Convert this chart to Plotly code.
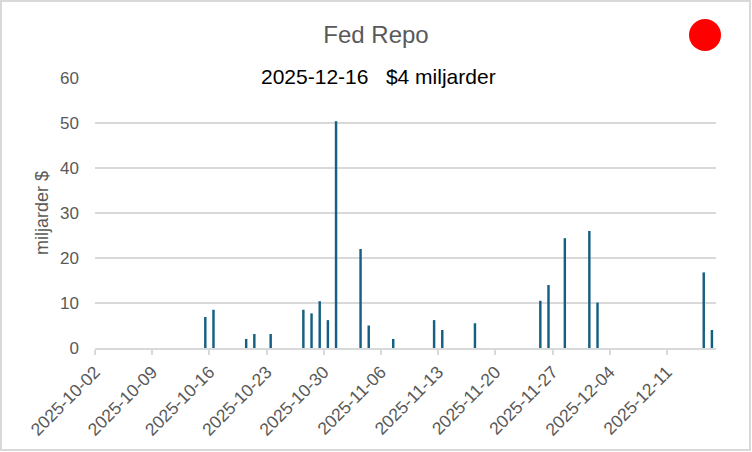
import plotly.graph_objects as go

# Fed repo operations, billions of dollars per day
dates = [
    "2025-10-15", "2025-10-16", "2025-10-20", "2025-10-21", "2025-10-23",
    "2025-10-27", "2025-10-28", "2025-10-29", "2025-10-30", "2025-10-31",
    "2025-11-03", "2025-11-04", "2025-11-07", "2025-11-12", "2025-11-13",
    "2025-11-17", "2025-11-25", "2025-11-26", "2025-11-28", "2025-12-01",
    "2025-12-02", "2025-12-15", "2025-12-16",
]
values = [
    6.9, 8.5, 2.0, 3.1, 3.1,
    8.5, 7.7, 10.4, 6.2, 50.4,
    22.0, 5.0, 2.0, 6.2, 4.0,
    5.5, 10.5, 14.0, 24.4, 26.0,
    10.1, 16.8, 4.0,
]
last_label = "2025-12-16\u00a0\u00a0\u00a0$4 miljarder"

W, H = 752, 452
L, R, T, B = 95, 36, 78, 104
pw, ph = W - L - R, H - T - B


def px_x(x):
    return (x - L) / pw


def px_y(y):
    return (H - B - y) / ph


grey = "#595959"
grid = "#d9d9d9"
day = 86400000

fig = go.Figure(go.Bar(
    x=dates, y=values,
    xperiod=day, xperiodalignment="middle",
    width=0.3 * day,
    marker=dict(color="#156082", line=dict(width=0)),
))

fig.update_layout(
    width=W, height=H,
    margin=dict(l=L, r=R, t=T, b=B),
    paper_bgcolor="white", plot_bgcolor="white",
    font=dict(family="Liberation Sans, Arial, sans-serif", color=grey),
    showlegend=False,
    title=dict(text="Fed Repo", x=376 / W, xanchor="center",
               y=1 - 35 / H, yanchor="middle", yref="container",
               font=dict(size=24, color=grey)),
    xaxis=dict(
        type="date", range=["2025-10-02", "2025-12-17"],
        tick0="2025-10-02", dtick=7 * day, tickformat="%Y-%m-%d",
        tickangle=-45, tickfont=dict(size=17.5, color=grey),
        showgrid=False, showline=True, linecolor=grid, linewidth=2,
        ticks="outside", ticklen=5, tickcolor=grid, tickwidth=1.5,
        zeroline=False,
    ),
    yaxis=dict(
        range=[0, 60], dtick=10, tickfont=dict(size=17, color=grey),
        gridcolor=grid, gridwidth=1.5, zeroline=False, showline=False,
        ticklabelstandoff=15,
        title=dict(text="miljarder $", font=dict(size=18, color=grey), standoff=6),
    ),
    shapes=[
        dict(type="rect", xref="paper", yref="paper",
             x0=px_x(1), x1=px_x(750), y0=px_y(450), y1=px_y(1),
             line=dict(color=grid, width=2), fillcolor="rgba(0,0,0,0)"),
        dict(type="circle", xref="paper", yref="paper",
             xsizemode="pixel", ysizemode="pixel",
             xanchor=px_x(705), yanchor=px_y(35),
             x0=-16, x1=16, y0=-16, y1=16,
             fillcolor="red", line=dict(width=0)),
    ],
    annotations=[
        dict(text=last_label, xref="paper", yref="paper",
             x=px_x(378), y=px_y(77), xanchor="center", yanchor="middle",
             showarrow=False, font=dict(size=21, color="black")),
    ],
)

# drop the browser's default page margin so the chart sits at 0,0
fig.write_html("out.html", config={"displayModeBar": False},
               post_script="document.body.style.margin='0';")
